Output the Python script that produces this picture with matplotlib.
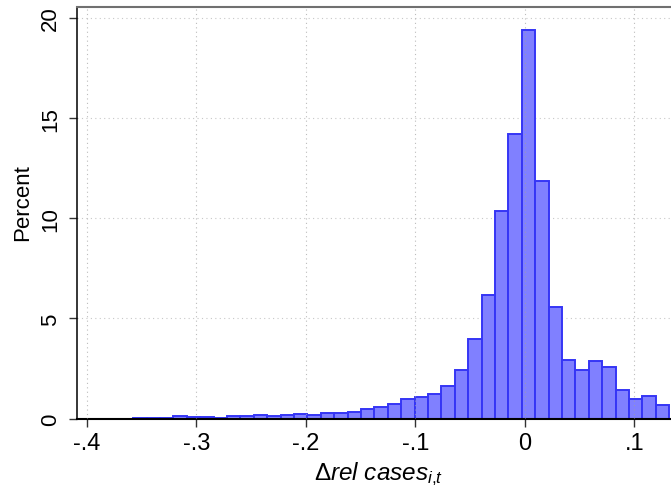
import matplotlib
matplotlib.use("Agg")
import matplotlib.pyplot as plt
import numpy as np

plt.rcParams['font.family'] = ['Liberation Sans', 'DejaVu Sans']
plt.rcParams['mathtext.fontset'] = 'custom'
plt.rcParams['mathtext.rm'] = 'Liberation Sans'
plt.rcParams['mathtext.it'] = 'Liberation Sans:italic'

# histogram bins (percent of observations per bin)
bin_start = -0.3576
bin_width = 0.012236
percent = [0.03, 0.03, 0.03, 0.13, 0.08, 0.08, 0.03, 0.13, 0.13, 0.18,
           0.13, 0.18, 0.23, 0.18, 0.28, 0.28, 0.33, 0.47, 0.58, 0.73,
           0.98, 1.08, 1.23, 1.63, 2.43, 3.98, 6.18, 10.38, 14.23, 19.42,
           11.88, 5.58, 2.93, 2.43, 2.87, 2.57, 1.42, 0.98, 1.13, 0.68]

xticks = [-0.4, -0.3, -0.2, -0.1, 0.0, 0.1]
xticklabels = ['-.4', '-.3', '-.2', '-.1', '0', '.1']
yticks = [0, 5, 10, 15, 20]

lefts = bin_start + bin_width * np.arange(len(percent))

fig = plt.figure(figsize=(6.71, 4.89), dpi=100)
ax = fig.add_axes([77 / 671, 1 - 419.5 / 489, 1 - 77 / 671, 411.5 / 489])

for y in yticks[1:]:
    ax.axhline(y, color='#c8c8c8', lw=0.8, ls=(0, (1, 3)), zorder=0)

ax.bar(lefts, percent, width=bin_width, align='edge',
       facecolor='#8080ff', edgecolor='#3535f5', linewidth=1.4, zorder=2)

for x in xticks:
    ax.axvline(x, color='#a0a0a0', lw=0.8, ls=(0, (1, 3)), alpha=0.7, zorder=3)

ax.set_xlim(-0.409, 0.1335)
ax.set_ylim(0, 20.55)

ax.set_xticks(xticks)
ax.set_xticklabels(xticklabels)
ax.set_yticks(yticks)
ax.set_yticklabels([str(v) for v in yticks], rotation=90, va='center')
ax.tick_params(axis='both', length=5.5, width=1, color='#333333')
ax.tick_params(axis='x', labelsize=17, pad=4)
ax.tick_params(axis='y', labelsize=16, pad=6)

ax.spines['right'].set_visible(False)
ax.spines['top'].set_color('#707070')
ax.spines['top'].set_linewidth(1.5)
ax.spines['left'].set_linewidth(1.1)
ax.spines['bottom'].set_linewidth(1.5)

ax.set_ylabel('Percent', fontsize=16)
ax.yaxis.set_label_coords(-0.074, 0.526)
ax.set_xlabel(r'$\mathit{Δrel\ cases}_{\mathit{i{,}t}}$', fontsize=17.5)
ax.xaxis.set_label_coords(0.507, -0.1)

fig.savefig('out.png', dpi=100)
